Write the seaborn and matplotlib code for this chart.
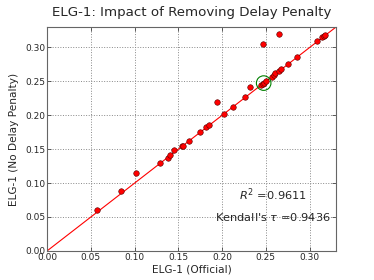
import numpy as np
import pandas as pd
import matplotlib
matplotlib.use("Agg")
import matplotlib.pyplot as plt
import seaborn as sns

# ELG-1 scores per system
official = [0.0566, 0.084, 0.102, 0.129, 0.138, 0.141, 0.1445, 0.154, 0.155, 0.162,
            0.175, 0.182, 0.185, 0.1946, 0.2018, 0.212, 0.2258, 0.2315, 0.2448, 0.2465,
            0.248, 0.250, 0.247, 0.2566, 0.2596, 0.261, 0.265, 0.2676, 0.2653, 0.2748,
            0.286, 0.3087, 0.3143, 0.316, 0.3178]
no_delay = [0.061, 0.089, 0.115, 0.129, 0.1376, 0.141, 0.149, 0.154, 0.155, 0.162,
            0.175, 0.182, 0.186, 0.220, 0.2016, 0.2125, 0.2263, 0.242, 0.2446, 0.2465,
            0.248, 0.250, 0.305, 0.257, 0.260, 0.262, 0.266, 0.2678, 0.3195, 0.2756,
            0.2865, 0.309, 0.3155, 0.3175, 0.3185]
highlight_x = [0.2475]
highlight_y = [0.2475]
r2 = 0.9611
tau = 0.9436
ticks = [0.00, 0.05, 0.10, 0.15, 0.20, 0.25, 0.30]

sns.set_style("white", {"xtick.direction": "in", "ytick.direction": "in"})
plt.rcParams['font.family'] = ['DejaVu Sans']

df = pd.DataFrame({"official": official, "no_delay": no_delay})

fig, ax = plt.subplots(figsize=(3.74, 2.8), dpi=100)
fig.subplots_adjust(left=0.126, right=0.898, top=0.903, bottom=0.104)

ax.axline((0, 0), slope=1, color="red", lw=0.8, zorder=2)
sns.scatterplot(data=df, x="official", y="no_delay", ax=ax, color="red",
                edgecolor="#550000", linewidth=0.4, s=16, zorder=3)
sns.scatterplot(x=highlight_x, y=highlight_y, ax=ax, marker="o", s=110,
                facecolor="none", edgecolor="green", linewidth=0.8, zorder=4)

ax.set_xlim(0, 0.33)
ax.set_ylim(0, 0.33)
ax.set_xticks(ticks)
ax.set_yticks(ticks)
ax.set_xticklabels(["%.2f" % t for t in ticks])
ax.set_yticklabels(["%.2f" % t for t in ticks])
ax.tick_params(labelsize=6.5, length=3, width=0.6, color="#444444",
               top=True, right=True, bottom=True, left=True, pad=1.5)
ax.grid(True, linestyle=":", color="#888888", lw=0.7)
for s in ax.spines.values():
    s.set_color("#666666")
    s.set_linewidth(0.8)

ax.text(0.258, 0.0835, r"$R^2$ =%.4f" % r2, ha="center", va="center", fontsize=8.2)
ax.text(0.258, 0.050, r"Kendall's $\tau$ =%.4f" % tau, ha="center", va="center", fontsize=8.2)

ax.set_xlabel("ELG-1 (Official)", fontsize=7.6, labelpad=2)
ax.set_ylabel("ELG-1 (No Delay Penalty)", fontsize=7.6, labelpad=4)
ax.set_title("ELG-1: Impact of Removing Delay Penalty", fontsize=9.6, pad=8)

fig.savefig("out.png", dpi=100)
